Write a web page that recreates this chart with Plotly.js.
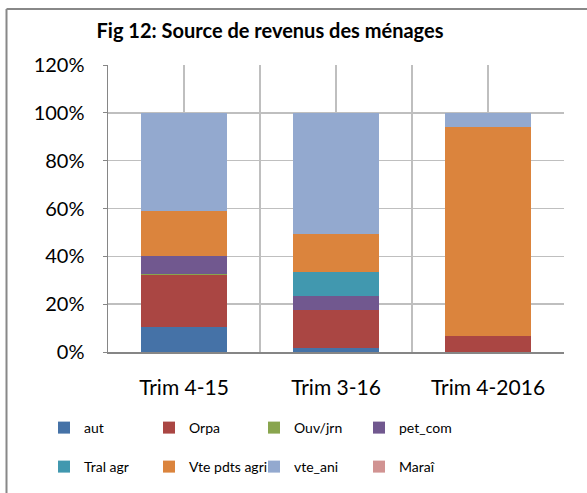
<!DOCTYPE html>
<html><head><meta charset="utf-8">
<script src="https://cdn.plot.ly/plotly-3.0.1.min.js"></script>
<style>html,body{margin:0;padding:0;background:#fff;}#chart{width:587px;height:493px;}</style>
</head><body><div id="chart"></div>
<script>
const categories = ["Trim 4-15", "Trim 3-16", "Trim 4-2016"];
const seriesNames = ["aut", "Orpa", "Ouv/jrn", "pet_com", "Tral agr", "Vte pdts agri", "vte_ani", "Maraî"];
const aut = [10.3, 1.5, 0];
const orpa = [21.9, 16.1, 6.5];
const ouvJrn = [0.5, 0, 0];
const petCom = [7.3, 5.9, 0];
const tralAgr = [0, 10.0, 0];
const vtePdtsAgri = [19.0, 15.9, 87.5];
const vteAni = [41.0, 50.6, 6.0];
const marai = [0, 0, 0];
const yTicks = [0, 20, 40, 60, 80, 100, 120];

const seriesValues = [aut, orpa, ouvJrn, petCom, tralAgr, vtePdtsAgri, vteAni, marai];
const colors = ["#4572A7", "#AA4643", "#89A54E", "#71588F", "#4198AF", "#DB843D", "#93A9CF", "#D19392"];
const xIdx = categories.map((c, i) => i);

const traces = seriesNames.map((name, k) => ({
  type: "bar",
  name: name,
  x: xIdx,
  y: seriesValues[k].map(v => v / 100),
  marker: {color: colors[k], line: {width: 0}},
  legend: k < 4 ? "legend" : "legend2",
  hoverinfo: "skip"
}));

const font = "Lato, 'Liberation Sans', sans-serif";
const legendCommon = {
  orientation: "h", xanchor: "left", yanchor: "middle",
  xref: "container", yref: "container",
  entrywidth: 60, entrywidthmode: "pixels", traceorder: "normal",
  font: {family: font, size: 14, color: "#000"}, bgcolor: "rgba(0,0,0,0)"
};

const PX = x => (x - 108) / 456;
const PY = y => (352 - y) / 287;

const layout = {
  width: 587, height: 493,
  margin: {l: 108, r: 23, t: 65, b: 141},
  paper_bgcolor: "#fff", plot_bgcolor: "#fff",
  barmode: "stack", bargap: 0.43,
  showlegend: true,
  title: {text: "<b>Fig 12: Source de revenus des ménages</b>", x: 270/587, xanchor: "center", y: 1 - 31/493, yanchor: "middle",
    font: {family: font, size: 20, color: "#000"}},
  xaxis: {
    range: [-0.5, 2.5], tickvals: xIdx, ticktext: categories,
    showgrid: true, gridcolor: "#BFBFBF", gridwidth: 1.5,
    minor: {tickvals: [-0.5, 0.5, 1.5, 2.5], showgrid: true, gridcolor: "#BFBFBF", gridwidth: 1.5},
    showline: true, linecolor: "#868686", linewidth: 1.5,
    ticks: "", zeroline: false, fixedrange: true, automargin: false,
    tickfont: {family: font, size: 21, color: "#000"}, ticklabelstandoff: 16
  },
  yaxis: {
    range: [0, 1.2], tickvals: yTicks.map(v => v / 100), ticktext: yTicks.map(v => v + "%"),
    showgrid: true, gridcolor: "#BFBFBF", gridwidth: 1.5,
    showline: true, linecolor: "#868686", linewidth: 1.5,
    ticks: "outside", ticklen: 4, tickcolor: "#868686", zeroline: false, fixedrange: true, automargin: false,
    tickfont: {family: font, size: 20, color: "#000"}, ticklabelstandoff: 14
  },
  legend: Object.assign({x: 44/587, y: 1 - 428/493}, legendCommon),
  legend2: Object.assign({x: 44/587, y: 1 - 467/493}, legendCommon),
  shapes: [
    {type: "line", xref: "paper", yref: "paper", x0: PX(6.5), x1: PX(6.5), y0: PY(9), y1: PY(500), line: {color: "#888", width: 2}},
    {type: "line", xref: "paper", yref: "paper", x0: PX(6.5), x1: PX(600), y0: PY(9), y1: PY(9), line: {color: "#888", width: 2}}
  ]
};

Plotly.newPlot("chart", traces, layout, {staticPlot: true, displayModeBar: false});
</script></body></html>
